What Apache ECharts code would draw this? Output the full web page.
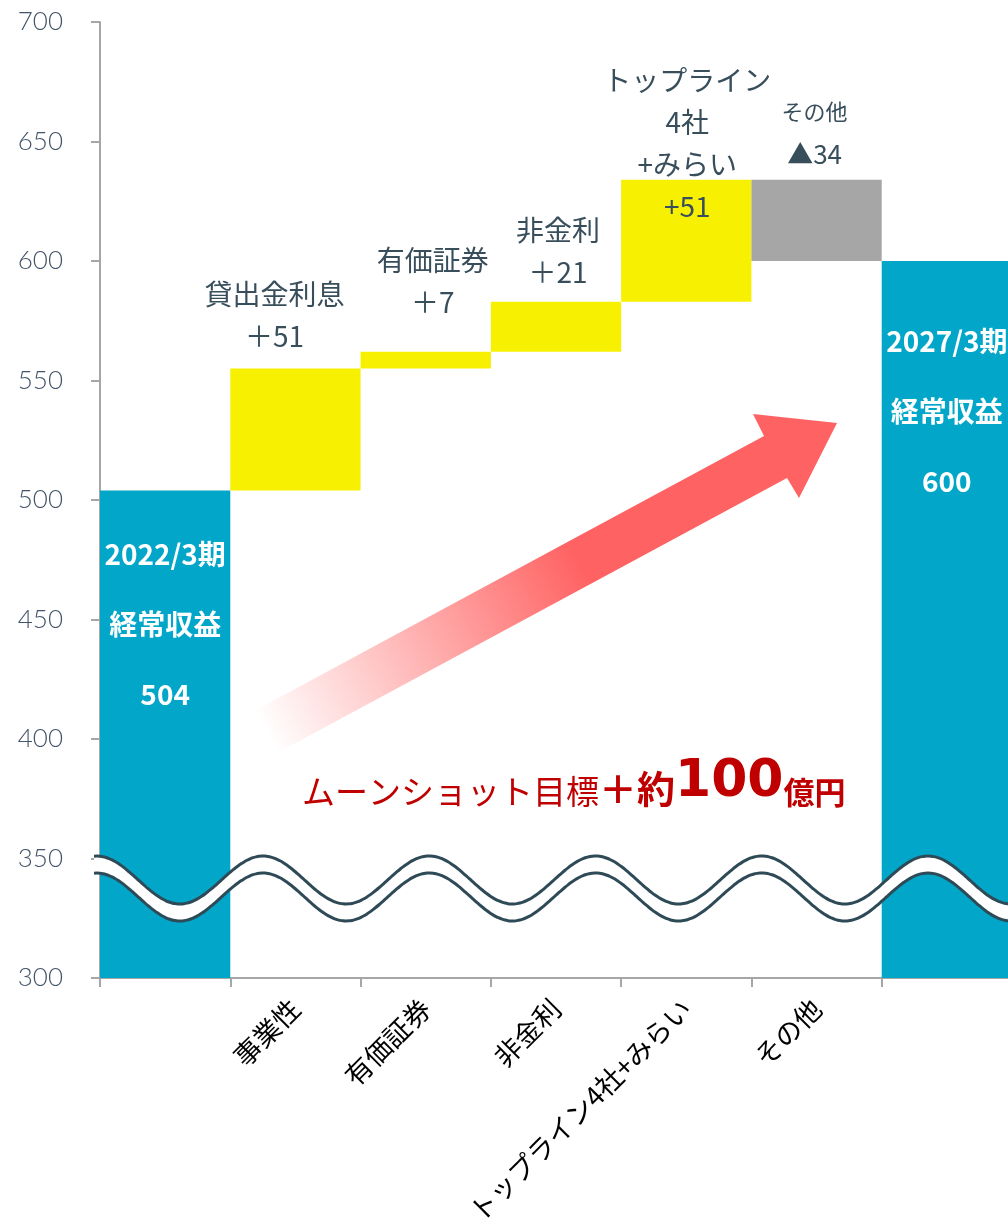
<!DOCTYPE html>
<html>
<head>
<meta charset="utf-8">
<script src="https://cdn.jsdelivr.net/npm/echarts@6/dist/echarts.min.js"></script>
<style>
  html, body { margin: 0; padding: 0; background: #fff; }
  #chart { width: 1008px; height: 1219px; }
</style>
</head>
<body>
<div id="chart"></div>
<script>
const categories = ['2022/3期', '事業性', '有価証券', '非金利', 'トップライン4社+みらい', 'その他', '2027/3期'];
const axisLabels = ['', '事業性', '有価証券', '非金利', 'トップライン4社+みらい', 'その他', ''];
const startTotal = 504;
const endTotal = 600;
// 合計バーは null、それ以外は増減額
const deltas = [null, 51, 7, 21, 51, -34, null];
const barLabels = [
  '2022/3期\n経常収益\n504',
  '貸出金利息\n＋51',
  '有価証券\n＋7',
  '非金利\n＋21',
  'トップライン\n4社\n+みらい\n+51',
  '{s|その他}\n▲34',
  '2027/3期\n経常収益\n600'
];
const yMin = 300, yMax = 700, yStep = 50;

const JP = '"Noto Sans CJK JP", "Noto Sans", sans-serif';
const colors = { total: '#02A6C8', up: '#F7F000', down: '#A6A6A6' };
const labelColor = '#384E5B';
const red = '#C00000';

// waterfall: transparent base + visible step
const base = [];
const steps = [];
let running = startTotal;
deltas.forEach((d, i) => {
  if (d === null) {
    const total = i === 0 ? startTotal : endTotal;
    base.push(yMin);
    steps.push({ value: total - yMin, kind: 'total' });
  } else {
    const next = running + d;
    base.push(Math.min(running, next));
    steps.push({ value: Math.abs(d), kind: d >= 0 ? 'up' : 'down' });
    running = next;
  }
});

function labelFor(i, kind) {
  if (kind === 'total') {
    return {
      show: true, position: 'insideTop', distance: i === 0 ? 29 : 45,
      color: '#fff', fontSize: 28, fontWeight: 'bold', lineHeight: 70, fontFamily: JP
    };
  }
  const dist = [0, 11, 28, 8, 5, 5, 0][i];
  const offset = [[0, 0], [-21, 0], [7, 0], [2, 0], [1, 53], [-2, 0], [0, 0]][i];
  return {
    show: true, position: 'top', distance: dist, offset: offset,
    color: labelColor, fontSize: kind === 'down' ? 26 : 28, lineHeight: 42, fontFamily: JP,
    rich: { s: { fontSize: 22, lineHeight: 42, color: labelColor, fontFamily: JP } }
  };
}

const stepData = steps.map((s, i) => ({
  value: s.value,
  itemStyle: { color: colors[s.kind] },
  label: Object.assign(labelFor(i, s.kind), { formatter: barLabels[i] })
}));

// 省略波線
function wave(offset) {
  const pts = [];
  for (let x = 94; x <= 1012; x += 3) {
    pts.push([x, 880 + offset - 24 * Math.cos(2 * Math.PI * (x - 263) / 166.25)]);
  }
  return pts;
}
const upper = wave(0);
const lower = wave(17);

const chart = echarts.init(document.getElementById('chart'), null, { renderer: 'canvas' });

chart.setOption({
  animation: false,
  backgroundColor: '#fff',
  grid: { left: 100, top: 22, width: 912, height: 956, outerBoundsMode: 'none' },
  xAxis: {
    type: 'category',
    data: categories,
    axisLine: { lineStyle: { color: '#A6A6A6', width: 2 } },
    axisTick: { show: true, length: 9, lineStyle: { color: '#A6A6A6', width: 2 } },
    axisLabel: {
      interval: 0, rotate: 45, margin: 26, fontSize: 27, color: '#000', fontFamily: JP,
      formatter: (v, i) => axisLabels[i]
    }
  },
  yAxis: {
    type: 'value', min: yMin, max: yMax, interval: yStep,
    axisLine: { show: true, lineStyle: { color: '#A6A6A6', width: 2 } },
    axisTick: { show: true, length: 9, lineStyle: { color: '#A6A6A6', width: 2 } },
    splitLine: { show: false },
    axisLabel: { margin: 37, fontSize: 26, color: '#44546A', fontFamily: 'Lato, "Noto Sans", sans-serif', fontWeight: 300 }
  },
  series: [
    {
      name: 'base', type: 'bar', stack: 'w', data: base, silent: true,
      barCategoryGap: 0, itemStyle: { color: 'transparent' }
    },
    {
      name: 'step', type: 'bar', stack: 'w', data: stepData, barCategoryGap: 0
    }
  ],
  graphic: [
    {
      type: 'polygon', z: 100, silent: true,
      shape: {
        points: [[256, 710], [764, 436], [753, 414], [837, 423], [799, 498], [787, 478], [279, 752]]
      },
      style: {
        fill: {
          type: 'linear', global: true, x: 265, y: 731, x2: 837, y2: 423,
          colorStops: [
            { offset: 0, color: 'rgba(255,98,98,0)' },
            { offset: 0.55, color: 'rgba(255,98,98,1)' },
            { offset: 1, color: 'rgba(255,98,98,1)' }
          ]
        }
      }
    },
    {
      type: 'polygon', z: 100, silent: true,
      shape: { points: upper.concat(lower.slice().reverse()) },
      style: { fill: '#fff' }
    },
    {
      type: 'polyline', z: 101, silent: true,
      shape: { points: upper, smooth: 0.3 },
      style: { stroke: '#2F4A57', lineWidth: 3, fill: null }
    },
    {
      type: 'polyline', z: 101, silent: true,
      shape: { points: lower, smooth: 0.3 },
      style: { stroke: '#2F4A57', lineWidth: 3, fill: null }
    },
    {
      type: 'text', z: 102, left: 302, top: 756, silent: true,
      style: {
        text: '{a|ムーンショット目標}{b|＋約}{c|100}{d|億円}',
        fill: red,
        rich: {
          a: { fontSize: 33, lineHeight: 50, fill: red, fontFamily: JP, verticalAlign: 'bottom' },
          b: { fontSize: 38, lineHeight: 54, fill: red, fontFamily: JP, fontWeight: 'bold', verticalAlign: 'bottom' },
          c: { fontSize: 52, lineHeight: 52, fill: red, fontFamily: '"DejaVu Sans", sans-serif', fontWeight: 'bold', verticalAlign: 'bottom' },
          d: { fontSize: 31, lineHeight: 48, fill: red, fontFamily: JP, fontWeight: 'bold', verticalAlign: 'bottom' }
        }
      }
    }
  ]
});
</script>
</body>
</html>
